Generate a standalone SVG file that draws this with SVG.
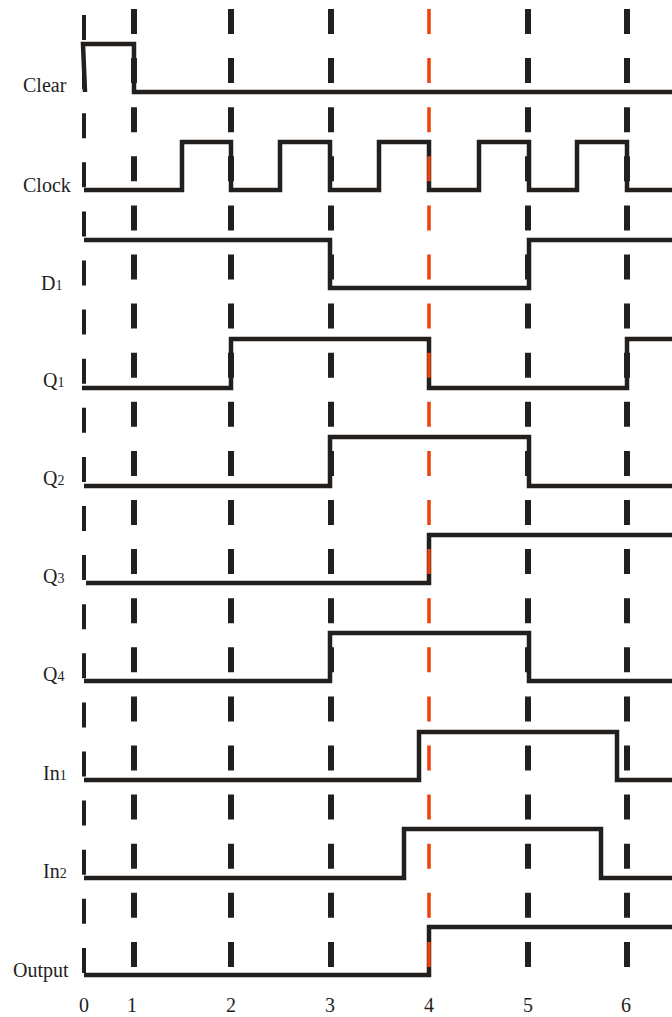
<svg xmlns="http://www.w3.org/2000/svg" width="672" height="1017" viewBox="0 0 672 1017">
<style>
.sig{fill:none;stroke:#231f1c;stroke-width:4.5;stroke-linejoin:miter;stroke-linecap:butt}
.lbl{font-family:"Liberation Serif","Times New Roman",serif;font-size:20px;fill:#231f1c}
.sub{font-size:14px}
.tick{font-family:"Liberation Serif","Times New Roman",serif;font-size:20px;fill:#231f1c;text-anchor:middle}
.grid{fill:none;stroke:#231f1c;stroke-width:6;stroke-dasharray:25 24.1}
.g0{stroke-width:4}
.red{stroke:#ee4008;stroke-width:3.5}
</style>
<rect width="672" height="1017" fill="#ffffff"/>
<g id="clear"><path class="sig" d="M85,92 L83,44 H134 V92 H672"/><text class="lbl" x="23" y="92">Clear</text></g>
<g id="clock"><path class="sig" d="M84,190 H182 V142 H231 V190 H280 V142 H330 V190 H379 V142 H429 V190 H479 V142 H529 V190 H577 V142 H627 V190 H672"/><text class="lbl" x="23" y="192">Clock</text></g>
<g id="d1"><path class="sig" d="M84,240 H330 V288 H529 V240 H672"/><text class="lbl" x="41" y="290">D<tspan class="sub">1</tspan></text></g>
<g id="q1"><path class="sig" d="M82,388 H231 V339 H429 V388 H627 V339 H672"/><text class="lbl" x="43" y="387">Q<tspan class="sub">1</tspan></text></g>
<g id="q2"><path class="sig" d="M84,486 H330 V437 H529 V486 H672"/><text class="lbl" x="43" y="485">Q<tspan class="sub">2</tspan></text></g>
<g id="q3"><path class="sig" d="M86,583 H429 V535 H672"/><text class="lbl" x="43" y="583">Q<tspan class="sub">3</tspan></text></g>
<g id="q4"><path class="sig" d="M84,681 H330 V633 H529 V681 H672"/><text class="lbl" x="43" y="681">Q<tspan class="sub">4</tspan></text></g>
<g id="in1"><path class="sig" d="M84,780 H419 V732 H617 V780 H672"/><text class="lbl" x="43" y="780">In<tspan class="sub">1</tspan></text></g>
<g id="in2"><path class="sig" d="M84,878 H404 V829 H601 V878 H672"/><text class="lbl" x="43" y="878">In<tspan class="sub">2</tspan></text></g>
<g id="output"><path class="sig" d="M84,975 H429 V927 H672"/><text class="lbl" x="13" y="977">Output</text></g>
<g id="connectors">
<line class="grid g0" x1="84" y1="15" x2="84" y2="975"/>
<line class="grid" x1="134" y1="9" x2="134" y2="968"/>
<line class="grid" x1="231" y1="9" x2="231" y2="968"/>
<line class="grid" x1="331" y1="9" x2="331" y2="968"/>
<line class="grid red" x1="429" y1="9" x2="429" y2="968"/>
<line class="grid" x1="528" y1="9" x2="528" y2="968"/>
<line class="grid" x1="627" y1="9" x2="627" y2="968"/>
</g>
<g id="axis">
<text class="tick" x="84" y="1012">0</text>
<text class="tick" x="132" y="1012">1</text>
<text class="tick" x="231" y="1012">2</text>
<text class="tick" x="330" y="1012">3</text>
<text class="tick" x="429" y="1012">4</text>
<text class="tick" x="528" y="1012">5</text>
<text class="tick" x="626" y="1012">6</text>
</g>
</svg>
